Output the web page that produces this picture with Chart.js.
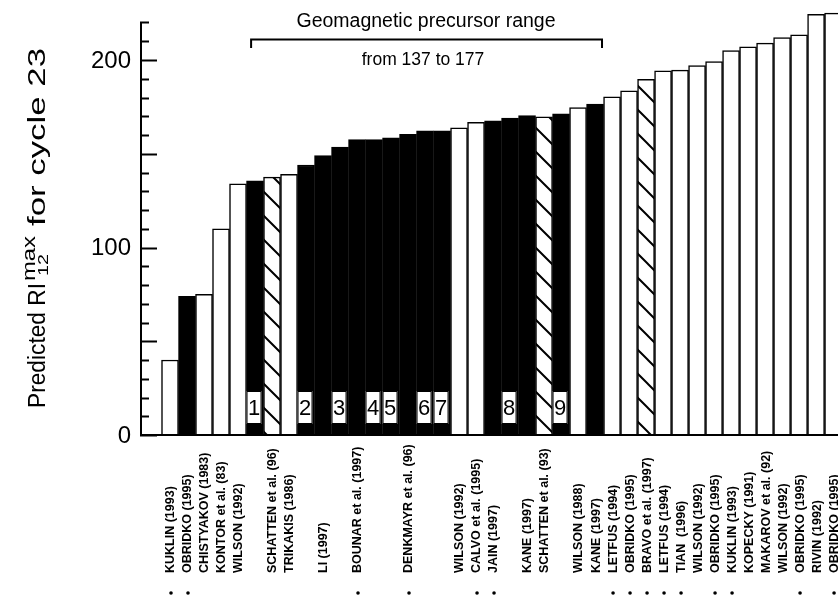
<!DOCTYPE html>
<html>
<head>
<meta charset="utf-8">
<title>Predicted RI12 max for cycle 23</title>
<script src="https://cdn.jsdelivr.net/npm/chart.js@4.4.1/dist/chart.umd.min.js"></script>
<style>
  html, body { margin: 0; padding: 0; background: #fff; }
  #wrap { position: relative; width: 838px; height: 601px; }
</style>
</head>
<body>
<div id="wrap"><canvas id="chart"></canvas></div>
<script>
/* ── Data ───────────────────────────────────────────────── */
const authors = [
  'KUKLIN (1993)', 'OBRIDKO (1995)', 'CHISTYAKOV (1983)', 'KONTOR et al. (83)', 'WILSON (1992)',
  '', 'SCHATTEN et al. (96)', 'TRIKAKIS (1986)', '', 'LI (1997)',
  '', 'BOUNAR et al. (1997)', '', '', 'DENKMAYR et al. (96)',
  '', '', 'WILSON (1992)', 'CALVO et al. (1995)', 'JAIN (1997)',
  '', 'KANE (1997)', 'SCHATTEN et al. (93)', '', 'WILSON (1988)',
  'KANE (1997)', 'LETFUS (1994)', 'OBRIDKO (1995)', 'BRAVO et al. (1997)', 'LETFUS (1994)',
  'TIAN  (1996)', 'WILSON (1992)', 'OBRIDKO (1995)', 'KUKLIN (1993)', 'KOPECKY (1991)',
  'MAKAROV et al. (92)', 'WILSON (1992)', 'OBRIDKO (1995)', 'RIVIN (1992)', 'OBRIDKO (1995)'
];

const predicted = [
  40, 74, 75, 110, 134,
  135.5, 137.5, 139, 144, 149,
  153.5, 157.5, 157.5, 158.5, 160.3,
  162.2, 162.2, 163.8, 166.8, 167.6,
  169, 170.3, 169.7, 171.3, 174.6,
  176.5, 180.4, 183.5, 189.7, 194.2,
  194.6, 197, 199.1, 205, 207,
  209, 212, 213.4, 224.4, 225
];

// 'open' = white bar, 'solid' = black (geomagnetic precursor), 'hatch' = hatched
const barKind = [
  'open', 'solid', 'open', 'open', 'open',
  'solid', 'hatch', 'open', 'solid', 'solid',
  'solid', 'solid', 'solid', 'solid', 'solid',
  'solid', 'solid', 'open', 'open', 'solid',
  'solid', 'solid', 'hatch', 'solid', 'open',
  'solid', 'open', 'open', 'hatch', 'open',
  'open', 'open', 'open', 'open', 'open',
  'open', 'open', 'open', 'open', 'open'
];

const boxNumbers = [
  '', '', '', '', '',
  '1', '', '', '2', '',
  '3', '', '4', '5', '',
  '6', '7', '', '', '',
  '8', '', '', '9', '',
  '', '', '', '', '',
  '', '', '', '', '',
  '', '', '', '', ''
];

const bulleted = [
  1, 1, 0, 0, 0,
  0, 0, 0, 0, 0,
  0, 1, 0, 0, 1,
  0, 0, 0, 1, 1,
  0, 0, 0, 0, 0,
  0, 1, 1, 1, 1,
  1, 0, 1, 1, 0,
  0, 0, 1, 0, 1
];

const yTickLabels = [0, 100, 200];
const yMajorStep = 50;
const yMinorStep = 10;
const yAxisTop = 220;

/* ── Hatch pattern ──────────────────────────────────────── */
const makeHatch = () => {
  const s = 24;
  const c = document.createElement('canvas');
  c.width = s; c.height = s;
  const g = c.getContext('2d');
  g.fillStyle = '#fff';
  g.fillRect(0, 0, s, s);
  g.strokeStyle = '#000';
  g.lineWidth = 2;
  g.beginPath();
  g.moveTo(-2, -2); g.lineTo(s + 2, s + 2);
  g.moveTo(-2, s - 2); g.lineTo(2, s + 2);
  g.moveTo(s - 2, -2); g.lineTo(s + 2, 2);
  g.stroke();
  return g.createPattern(c, 'repeat');
};

const FONT = "'Liberation Sans', Arial, Helvetica, sans-serif";

/* draw rotated (bottom-to-top) text stretched to fill [y0 -> y1] */
function vertText(ctx, text, x, y0, y1, size, weight) {
  ctx.save();
  ctx.font = (weight || 'normal') + ' ' + size + 'px ' + FONT;
  const w = ctx.measureText(text).width;
  ctx.translate(x, y0);
  ctx.rotate(-Math.PI / 2);
  ctx.scale((y0 - y1) / w, 1);
  ctx.textAlign = 'left';
  ctx.textBaseline = 'alphabetic';
  ctx.fillText(text, 0, 0);
  ctx.restore();
}

/* ── Decorations: axes, labels, boxes, bracket ──────────── */
const decorations = {
  id: 'decorations',
  afterDatasetsDraw(chart) {
    const { ctx, scales: { x, y } } = chart;
    const left = chart.chartArea.left;
    const right = chart.chartArea.right;
    const y0 = y.getPixelForValue(0);
    ctx.save();
    ctx.fillStyle = '#000';
    ctx.strokeStyle = '#000';

    // baseline
    ctx.lineWidth = 2;
    ctx.beginPath();
    ctx.moveTo(left, y0);
    ctx.lineTo(right, y0);
    ctx.stroke();

    // y axis with inward ticks
    ctx.beginPath();
    ctx.moveTo(left + 1, y0 + 1);
    ctx.lineTo(left + 1, y.getPixelForValue(yAxisTop));
    ctx.stroke();
    for (let v = 0; v <= yAxisTop; v += yMinorStep) {
      const py = Math.round(y.getPixelForValue(v)) + 0.5;
      const len = v % yMajorStep === 0 ? 17 : 9;
      ctx.beginPath();
      ctx.moveTo(left, py);
      ctx.lineTo(left + len, py);
      ctx.stroke();
    }
    ctx.font = '24px ' + FONT;
    ctx.textAlign = 'right';
    ctx.textBaseline = 'middle';
    yTickLabels.forEach(v => ctx.fillText(String(v), left - 9, y.getPixelForValue(v) + 1));

    // numbered boxes
    ctx.font = '22px ' + FONT;
    ctx.textAlign = 'center';
    ctx.textBaseline = 'middle';
    ctx.lineWidth = 1;
    boxNumbers.forEach((n, i) => {
      if (!n) return;
      const cx = x.getPixelForValue(i) - 1;
      ctx.fillStyle = '#fff';
      ctx.fillRect(cx - 7.5, 391, 15, 33);
      ctx.strokeRect(cx - 7.5 + 0.5, 391.5, 14, 32);
      ctx.fillStyle = '#000';
      ctx.fillText(n, cx, 409);
    });

    // author labels + bullets
    ctx.font = 'bold 12.5px ' + FONT;
    authors.forEach((t, i) => {
      const cx = x.getPixelForValue(i);
      if (t) {
        ctx.save();
        ctx.translate(cx + 1, 573);
        ctx.rotate(-Math.PI / 2);
        ctx.textAlign = 'left';
        ctx.textBaseline = 'middle';
        ctx.fillText(t, 0, 0);
        ctx.restore();
      }
      if (bulleted[i]) {
        ctx.beginPath();
        ctx.arc(cx + 1, 593, 1.8, 0, Math.PI * 2);
        ctx.fill();
      }
    });

    // geomagnetic precursor bracket
    const bx0 = x.getPixelForValue(4.77);
    const bx1 = x.getPixelForValue(25.41);
    ctx.lineWidth = 2;
    ctx.beginPath();
    ctx.moveTo(bx0, 48);
    ctx.lineTo(bx0, 39.5);
    ctx.lineTo(bx1, 39.5);
    ctx.lineTo(bx1, 48);
    ctx.stroke();
    ctx.textAlign = 'center';
    ctx.textBaseline = 'alphabetic';
    ctx.font = '19.5px ' + FONT;
    ctx.fillText('Geomagnetic precursor range', 426, 27);
    ctx.font = '17.5px ' + FONT;
    ctx.fillText('from 137 to 177', 423, 65);

    // y axis title
    vertText(ctx, 'Predicted RI', 45, 408, 283, 23);
    vertText(ctx, 'max', 35, 281, 236, 19);
    vertText(ctx, '12', 48, 276, 254, 15);
    vertText(ctx, 'for cycle 23', 45, 226, 48, 23);

    ctx.restore();
  }
};

/* ── Chart ──────────────────────────────────────────────── */
const boot = () => {
  const hatch = makeHatch();
  const colors = barKind.map(k => k === 'solid' ? '#000' : k === 'hatch' ? hatch : '#fff');

  new Chart(document.getElementById('chart'), {
    type: 'bar',
    data: {
      datasets: [{
        data: predicted.map((v, i) => ({ x: i, y: v })),
        backgroundColor: colors,
        borderColor: '#000',
        borderWidth: 1.5,
        borderSkipped: 'bottom',
        barPercentage: 1,
        categoryPercentage: 1,
        clip: false,
      }],
    },
    options: {
      responsive: true,
      maintainAspectRatio: false,
      animation: false,
      events: [],
      layout: { padding: { left: 140, right: 0, top: 0, bottom: 166 } },
      plugins: { legend: { display: false }, tooltip: { enabled: false } },
      scales: {
        x: { type: 'linear', min: -1.765, max: 39.29, offset: false, display: false },
        y: { min: 0, max: 232, display: false },
      },
    },
    plugins: [decorations],
  });
};

if (typeof Chart !== 'undefined') boot();
else window.addEventListener('load', boot);
</script>
</body>
</html>
